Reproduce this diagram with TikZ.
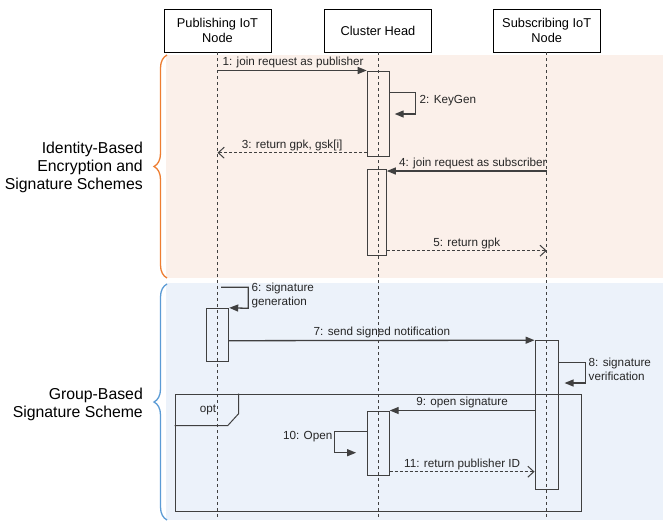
\documentclass[tikz,border=0pt]{standalone}
\usepackage{fontspec}
\setmainfont{Liberation Sans}
\usetikzlibrary{arrows.meta, decorations.pathreplacing}

\definecolor{idfill}{HTML}{FBF0EA}
\definecolor{grpfill}{HTML}{ECF2FA}
\definecolor{idbrace}{HTML}{ED7D31}
\definecolor{grpbrace}{HTML}{5B9BD5}
\definecolor{linegray}{HTML}{404040}

\begin{document}
\begin{tikzpicture}[
    x=1pt, y=-1pt,
    head/.style={rectangle, draw=black, fill=white, line width=0.8pt, minimum width=107pt, minimum height=43pt, align=center, font=\fontsize{12.8}{15}\selectfont, inner sep=0pt},
    lifeline/.style={draw=linegray, line width=1pt, dash pattern=on 3pt off 3pt},
    act/.style={rectangle, draw=linegray, line width=1pt, minimum width=22pt, inner sep=0pt},
    msg/.style={draw=linegray, line width=1.3pt, -{Triangle[length=9pt,width=7pt]}},
    reply/.style={draw=linegray, line width=1pt, dash pattern=on 3pt off 2pt, -{Straight Barb[length=6pt,width=11pt]}},
    lbl/.style={font=\fontsize{11.7}{14}\selectfont, text=black!85, inner sep=1.5pt, align=left},
    side/.style={font=\fontsize{15.8}{18}\selectfont, align=right, anchor=east, inner sep=0pt},
    groupbrace/.style={line width=1.3pt, decorate, decoration={brace, amplitude=13pt}},
    framebox/.style={draw=linegray, line width=1pt}
]
\useasboundingbox (0,0) rectangle (663,520);

% the two phases
\fill[idfill] (166,55) rectangle (663,278);
\fill[grpfill] (166,283) rectangle (663,520);
\draw[groupbrace, idbrace] (167,278) -- (167,55);
\draw[groupbrace, grpbrace] (167,520) -- (167,284);

\node[side] (idtext) at (143,167) {Identity-Based\\Encryption and\\Signature Schemes};
\node[side] (grptext) at (143,404) {Group-Based\\Signature Scheme};

% opt fragment
\node[framebox, minimum width=406pt, minimum height=117pt, inner sep=0pt] (optframe) at (378,452.5) {};
\draw[framebox] (optframe.north west) ++(0,32) -- ++(53.3,0) -- ++(10.7,-11.7) -- ++(0,-20.3);
\node[lbl] (opttext) at (208,410) {opt};

% lifelines
\node[head] (pub) at (217.5,30.5) {Publishing IoT\\Node};
\node[head] (ch) at (378,30.5) {Cluster Head};
\node[head] (sub) at (546.7,30.5) {Subscribing IoT\\Node};

\coordinate (pubend) at (217.5,520);
\coordinate (chend) at (378,520);
\coordinate (subend) at (546.7,520);

\draw[lifeline] (pub) -- (pubend);
\draw[lifeline] (ch) -- (chend);
\draw[lifeline] (sub) -- (subend);

% activations
\node[act, minimum height=85pt] (ch1) at (378.2,113.5) {};
\node[act, minimum width=19pt, minimum height=86pt] (ch2) at (376.8,212.3) {};
\node[act, minimum height=53.4pt] (pa) at (217.7,335) {};
\node[act, minimum width=23.3pt, minimum height=148.6pt] (sa) at (546.7,415) {};
\node[act, minimum height=64pt] (ch3) at (378.2,443) {};

% messages
\draw[msg] (pub |- ch1.north west) -- node[lbl, pos=0, anchor=south west, xshift=3pt] {1: join request as publisher} (ch1.north west);

\draw[msg] (ch1.east |- 0,92.7) -- ++(26,0) -- ++(0,21.3) -- ++(-21,0);
\node[lbl, anchor=west] (kg) at (418,101) {2: KeyGen};

\draw[reply] (ch1.west |- 0,152.7) -- node[lbl, above] {3: return gpk, gsk[i]} (pub |- 0,152.7);

\draw[msg] (sub |- 0,171) -- node[lbl, pos=0, anchor=south east, xshift=2pt] {4: join request as subscriber} (ch2.east |- 0,171);

\draw[reply] (ch2.east |- 0,250.7) -- node[lbl, above] {5: return gpk} (sub |- 0,250.7);

\draw[msg] ([xshift=3.5pt]pub.south |- 0,287.3) -- ++(27.3,0) -- ++(0,21) -- (pa.north east);
\node[lbl, anchor=west] (siggen) at (250,295) {6: signature\\generation};

\draw[msg] (pa.east |- 0,340.7) -- node[lbl, above] {7: send signed notification} (sa.north west);

\draw[msg] (sa.east |- 0,362.3) -- ++(26.7,0) -- ++(0,20.7) -- ++(-21,0);
\node[lbl, anchor=west] (sigver) at (587,369.5) {8: signature\\verification};

\draw[msg] (sa.west |- ch3.north east) -- node[lbl, above] {9: open signature} (ch3.north east);

\draw[msg] (ch3.west |- 0,431.7) -- ++(-32.3,0) -- ++(0,21) -- ++(21.7,0);
\node[lbl, anchor=east] (open) at (334,437) {10: Open};

\draw[reply] (ch3.east |- 0,471.7) -- node[lbl, above] {11: return publisher ID} (sa.west |- 0,471.7);

\end{tikzpicture}
\end{document}
